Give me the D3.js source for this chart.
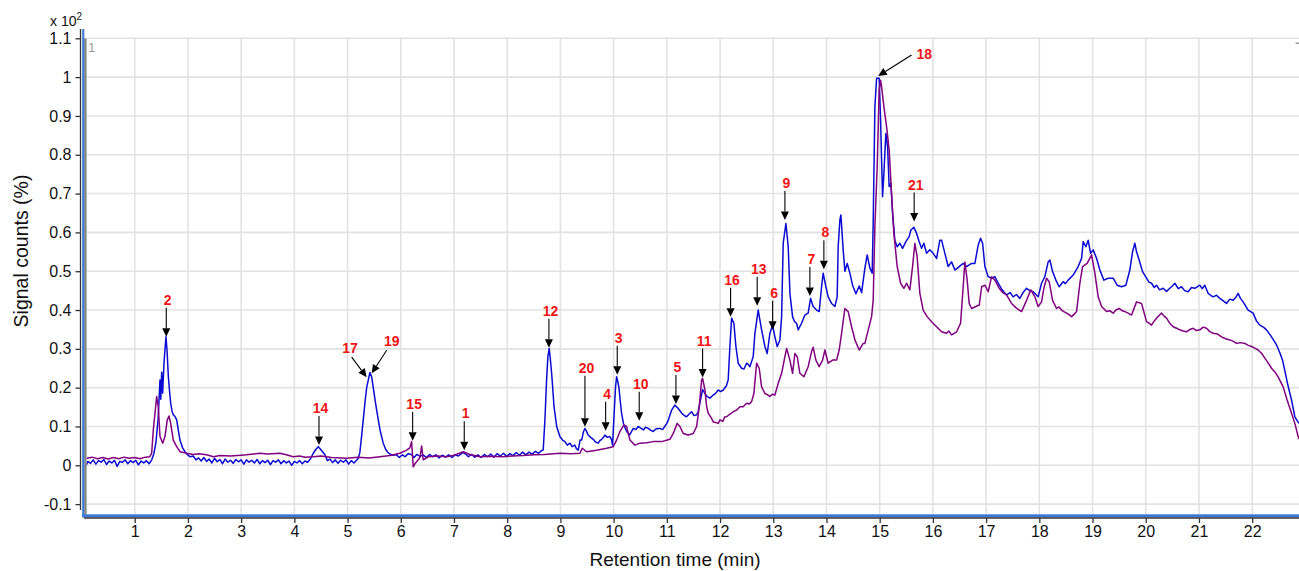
<!DOCTYPE html>
<html>
<head>
<meta charset="utf-8">
<script src="https://cdn.jsdelivr.net/npm/d3@7"></script>
<style>
  body { margin: 0; background: #fff; }
  svg { display: block; }
  text { font-family: "Liberation Sans", Arial, Helvetica, sans-serif; }
</style>
</head>
<body>
<svg id="chart" width="1299" height="571"></svg>
<script>
// Retention-time ticks (min) and signal ticks (x 10^2 %)
const xTicks = d3.range(1, 23);
const yTicks = [-0.1, 0, 0.1, 0.2, 0.3, 0.4, 0.5, 0.6, 0.7, 0.8, 0.9, 1, 1.1];
const yTickLabels = ["-0.1", "0", "0.1", "0.2", "0.3", "0.4", "0.5", "0.6", "0.7", "0.8", "0.9", "1", "1.1"];

// Chromatogram 1 (blue): [time, signal]
const blueTrace = [
[0.03,0.012],[0.08,-0.002],[0.12,0.010],[0.17,0.005],[0.22,0.014],[0.27,0.003],[0.32,0.012],[0.37,0.008],[0.42,0.015],[0.47,0.002],
[0.52,0.011],[0.57,0.006],[0.62,0.013],[0.67,-0.003],[0.72,0.010],[0.77,0.008],[0.82,0.014],[0.87,0.004],[0.92,0.012],[0.97,0.007],
[1.02,0.013],[1.07,0.001],[1.12,0.011],[1.17,0.006],[1.22,0.012],[1.27,0.004],[1.32,0.014],[1.36,0.030],[1.40,0.060],[1.44,0.120],
[1.475,0.220],[1.49,0.170],[1.507,0.240],[1.525,0.186],[1.55,0.263],[1.57,0.300],[1.588,0.331],[1.61,0.290],[1.632,0.228],[1.655,0.190],
[1.676,0.160],[1.70,0.140],[1.725,0.130],[1.76,0.125],[1.789,0.117],[1.82,0.090],[1.85,0.065],[1.90,0.045],[1.945,0.035],[2.0,0.026],
[2.04,0.022],[2.1,0.024],[2.15,0.014],[2.2,0.019],[2.25,0.011],[2.3,0.020],[2.35,0.010],[2.4,0.016],[2.45,0.006],[2.5,0.018],
[2.55,0.009],[2.6,0.015],[2.65,0.004],[2.7,0.016],[2.75,0.008],[2.8,0.013],[2.85,0.005],[2.9,0.015],[2.95,0.009],[3.0,0.014],
[3.05,0.003],[3.1,0.014],[3.15,0.008],[3.2,0.013],[3.25,0.006],[3.3,0.015],[3.35,0.004],[3.4,0.012],[3.45,0.007],[3.5,0.013],
[3.55,0.002],[3.6,0.012],[3.65,0.008],[3.7,0.014],[3.75,0.004],[3.8,0.012],[3.85,0.006],[3.9,0.011],[3.95,0.000],[4.0,0.010],
[4.05,0.006],[4.1,0.012],[4.15,0.004],[4.2,0.011],[4.25,0.008],[4.3,0.016],[4.356,0.031],[4.40,0.040],[4.45,0.048],[4.50,0.040],
[4.575,0.027],[4.62,0.012],[4.67,0.016],[4.72,0.007],[4.77,0.014],[4.82,0.005],[4.87,0.013],[4.92,0.008],[4.97,0.014],[5.02,0.003],
[5.07,0.012],[5.12,0.006],[5.17,0.013],[5.2,0.018],[5.23,0.032],[5.26,0.070],[5.295,0.117],[5.33,0.165],[5.359,0.200],[5.39,0.220],
[5.42,0.239],[5.453,0.228],[5.483,0.200],[5.515,0.170],[5.547,0.142],[5.58,0.115],[5.61,0.091],[5.67,0.057],[5.72,0.040],[5.765,0.032],
[5.83,0.026],[5.92,0.027],[5.97,0.020],[6.03,0.027],[6.08,0.022],[6.14,0.030],[6.2,0.028],[6.25,0.020],[6.3,0.028],[6.36,0.023],
[6.42,0.027],[6.48,0.020],[6.54,0.028],[6.6,0.022],[6.66,0.027],[6.72,0.019],[6.78,0.026],[6.84,0.021],[6.9,0.027],[6.96,0.020],
[7.02,0.027],[7.08,0.024],[7.13,0.029],[7.17,0.033],[7.22,0.029],[7.27,0.022],[7.33,0.028],[7.39,0.021],[7.45,0.027],[7.51,0.020],
[7.57,0.028],[7.63,0.022],[7.69,0.029],[7.75,0.021],[7.81,0.030],[7.87,0.024],[7.93,0.031],[7.99,0.023],[8.05,0.030],[8.11,0.025],
[8.17,0.033],[8.23,0.026],[8.29,0.034],[8.35,0.027],[8.41,0.034],[8.47,0.029],[8.53,0.036],[8.59,0.031],[8.64,0.037],[8.677,0.040],
[8.71,0.120],[8.74,0.220],[8.765,0.280],[8.79,0.301],[8.81,0.275],[8.835,0.237],[8.86,0.190],[8.88,0.151],[8.93,0.100],[8.99,0.074],
[9.04,0.065],[9.085,0.061],[9.13,0.052],[9.18,0.057],[9.22,0.048],[9.27,0.052],[9.30,0.043],[9.335,0.039],[9.37,0.065],[9.40,0.065],
[9.43,0.085],[9.46,0.095],[9.49,0.088],[9.52,0.078],[9.57,0.072],[9.617,0.067],[9.66,0.060],[9.71,0.057],[9.745,0.064],[9.775,0.067],
[9.81,0.072],[9.837,0.078],[9.88,0.072],[9.93,0.074],[9.96,0.066],[9.98,0.052],[10.01,0.134],[10.035,0.200],[10.056,0.228],[10.08,0.215],
[10.10,0.200],[10.125,0.165],[10.15,0.134],[10.19,0.104],[10.245,0.087],[10.30,0.078],[10.34,0.088],[10.37,0.095],[10.42,0.092],[10.46,0.100],
[10.51,0.096],[10.56,0.091],[10.60,0.098],[10.65,0.095],[10.70,0.090],[10.745,0.087],[10.80,0.094],[10.87,0.095],[10.92,0.092],[10.96,0.100],
[11.0,0.108],[11.03,0.117],[11.06,0.130],[11.09,0.142],[11.15,0.155],[11.21,0.147],[11.25,0.140],[11.28,0.134],[11.33,0.128],[11.37,0.125],
[11.42,0.132],[11.465,0.138],[11.51,0.128],[11.56,0.130],[11.59,0.138],[11.62,0.160],[11.672,0.195],[11.716,0.185],[11.75,0.178],[11.81,0.173],
[11.872,0.181],[11.92,0.186],[11.965,0.194],[12.01,0.190],[12.06,0.194],[12.12,0.205],[12.153,0.220],[12.185,0.306],[12.217,0.379],[12.26,0.366],
[12.298,0.306],[12.341,0.263],[12.405,0.250],[12.45,0.248],[12.499,0.263],[12.53,0.260],[12.561,0.254],[12.623,0.280],[12.655,0.340],[12.717,0.400],
[12.781,0.349],[12.843,0.306],[12.886,0.288],[12.937,0.340],[12.987,0.361],[13.031,0.331],[13.074,0.306],[13.125,0.323],[13.157,0.383],[13.187,0.572],
[13.238,0.623],[13.281,0.563],[13.313,0.443],[13.363,0.383],[13.40,0.370],[13.438,0.366],[13.469,0.349],[13.532,0.366],[13.594,0.387],[13.656,0.392],
[13.701,0.430],[13.75,0.409],[13.814,0.400],[13.863,0.396],[13.908,0.460],[13.938,0.495],[13.989,0.460],[14.032,0.434],[14.096,0.417],[14.158,0.409],
[14.201,0.434],[14.22,0.563],[14.252,0.632],[14.271,0.645],[14.314,0.555],[14.346,0.500],[14.39,0.520],[14.44,0.495],[14.49,0.464],[14.553,0.442],
[14.615,0.462],[14.66,0.445],[14.722,0.508],[14.765,0.542],[14.816,0.508],[14.859,0.495],[14.878,0.625],[14.91,0.924],[14.942,0.997],[14.99,0.997],
[15.017,0.889],[15.054,0.692],[15.079,0.752],[15.116,0.855],[15.148,0.821],[15.178,0.718],[15.21,0.726],[15.242,0.649],[15.285,0.580],[15.329,0.563],
[15.379,0.572],[15.43,0.559],[15.492,0.576],[15.554,0.589],[15.586,0.606],[15.643,0.613],[15.693,0.598],[15.742,0.576],[15.787,0.559],[15.83,0.572],
[15.881,0.546],[15.943,0.555],[16.005,0.546],[16.069,0.533],[16.131,0.580],[16.163,0.580],[16.225,0.546],[16.287,0.512],[16.351,0.524],[16.413,0.503],
[16.494,0.512],[16.569,0.520],[16.633,0.512],[16.727,0.520],[16.789,0.520],[16.851,0.567],[16.896,0.585],[16.934,0.572],[16.977,0.512],[17.039,0.486],
[17.103,0.482],[17.165,0.486],[17.227,0.469],[17.30,0.452],[17.384,0.439],[17.45,0.445],[17.508,0.434],[17.57,0.440],[17.634,0.430],[17.70,0.446],
[17.76,0.456],[17.82,0.450],[17.884,0.447],[17.978,0.434],[18.042,0.469],[18.104,0.486],[18.166,0.524],[18.198,0.529],[18.249,0.499],[18.311,0.477],
[18.373,0.460],[18.448,0.473],[18.49,0.468],[18.542,0.477],[18.636,0.490],[18.73,0.512],[18.794,0.533],[18.824,0.576],[18.875,0.563],[18.918,0.580],
[18.963,0.546],[19.012,0.555],[19.076,0.533],[19.138,0.503],[19.213,0.477],[19.294,0.482],[19.387,0.482],[19.463,0.464],[19.545,0.460],[19.626,0.464],
[19.701,0.503],[19.752,0.550],[19.795,0.572],[19.827,0.550],[19.876,0.529],[19.94,0.499],[20.015,0.482],[20.06,0.472],[20.109,0.469],[20.16,0.458],
[20.203,0.464],[20.26,0.452],[20.327,0.456],[20.39,0.448],[20.453,0.456],[20.50,0.462],[20.547,0.469],[20.61,0.455],[20.673,0.460],[20.73,0.450],
[20.797,0.447],[20.86,0.458],[20.923,0.456],[21.016,0.464],[21.06,0.455],[21.11,0.464],[21.172,0.443],[21.22,0.438],[21.266,0.434],[21.33,0.438],
[21.392,0.430],[21.45,0.424],[21.518,0.417],[21.58,0.428],[21.642,0.425],[21.69,0.432],[21.736,0.443],[21.78,0.430],[21.83,0.421],[21.924,0.400],
[22.018,0.392],[22.08,0.372],[22.144,0.361],[22.21,0.356],[22.27,0.349],[22.364,0.331],[22.458,0.310],[22.52,0.290],[22.57,0.271],[22.62,0.240],
[22.657,0.215],[22.70,0.190],[22.74,0.168],[22.802,0.125],[22.877,0.108]
];

// Chromatogram 2 (purple): [time, signal]
const purpleTrace = [
[0.03,0.020],[0.1,0.018],[0.2,0.021],[0.3,0.017],[0.4,0.020],[0.5,0.016],[0.6,0.020],[0.7,0.017],[0.8,0.021],[0.9,0.018],
[1.0,0.020],[1.1,0.017],[1.2,0.021],[1.28,0.022],[1.319,0.031],[1.349,0.091],[1.381,0.134],[1.413,0.177],[1.443,0.151],[1.475,0.074],
[1.526,0.057],[1.569,0.074],[1.612,0.117],[1.644,0.127],[1.676,0.108],[1.725,0.065],[1.789,0.048],[1.851,0.035],[1.977,0.031],[2.1,0.028],
[2.2,0.030],[2.35,0.027],[2.48,0.022],[2.6,0.025],[2.8,0.024],[3.0,0.026],[3.1,0.027],[3.35,0.031],[3.5,0.029],[3.73,0.031],
[3.85,0.027],[3.98,0.022],[4.1,0.024],[4.2,0.021],[4.356,0.022],[4.5,0.024],[4.7,0.020],[4.983,0.018],[5.2,0.021],[5.4,0.019],
[5.609,0.022],[5.8,0.025],[5.984,0.031],[6.11,0.039],[6.17,0.045],[6.204,0.061],[6.234,-0.004],[6.27,0.005],[6.298,0.009],[6.36,0.020],
[6.392,0.050],[6.422,0.014],[6.516,0.022],[6.7,0.024],[6.862,0.022],[7.0,0.026],[7.174,0.035],[7.3,0.028],[7.488,0.022],[7.7,0.023],
[7.9,0.022],[8.1,0.024],[8.3,0.025],[8.5,0.027],[8.7,0.028],[8.99,0.031],[9.2,0.030],[9.367,0.031],[9.41,0.044],[9.493,0.035],
[9.68,0.039],[9.868,0.044],[9.993,0.048],[10.056,0.065],[10.118,0.087],[10.193,0.104],[10.244,0.100],[10.306,0.065],[10.4,0.052],[10.494,0.057],
[10.62,0.058],[10.744,0.061],[10.902,0.061],[11.058,0.067],[11.12,0.082],[11.195,0.108],[11.246,0.100],[11.308,0.082],[11.402,0.078],[11.496,0.082],
[11.56,0.100],[11.609,0.151],[11.654,0.220],[11.672,0.224],[11.716,0.194],[11.748,0.151],[11.778,0.134],[11.841,0.121],[11.872,0.112],[11.965,0.108],
[12.0,0.117],[12.05,0.113],[12.09,0.125],[12.123,0.125],[12.18,0.131],[12.247,0.138],[12.31,0.142],[12.373,0.151],[12.435,0.151],[12.499,0.160],
[12.55,0.158],[12.593,0.164],[12.636,0.185],[12.687,0.263],[12.736,0.250],[12.781,0.202],[12.843,0.185],[12.89,0.182],[12.937,0.177],[12.98,0.183],
[13.031,0.181],[13.093,0.211],[13.157,0.237],[13.219,0.280],[13.251,0.301],[13.313,0.271],[13.363,0.237],[13.406,0.288],[13.45,0.280],[13.5,0.237],
[13.576,0.228],[13.656,0.254],[13.72,0.293],[13.75,0.304],[13.801,0.271],[13.863,0.254],[13.927,0.271],[13.97,0.297],[14.032,0.263],[14.115,0.271],
[14.19,0.271],[14.239,0.297],[14.284,0.340],[14.346,0.404],[14.408,0.396],[14.472,0.357],[14.534,0.323],[14.615,0.297],[14.69,0.314],[14.722,0.314],
[14.785,0.349],[14.848,0.383],[14.878,0.425],[14.91,0.615],[14.953,0.769],[14.99,0.967],[15.017,0.992],[15.036,0.975],[15.079,0.924],[15.13,0.872],
[15.178,0.812],[15.223,0.701],[15.266,0.598],[15.329,0.512],[15.393,0.469],[15.455,0.456],[15.505,0.469],[15.567,0.452],[15.618,0.512],[15.661,0.572],
[15.704,0.537],[15.755,0.443],[15.817,0.400],[15.892,0.383],[15.975,0.370],[16.069,0.357],[16.163,0.344],[16.257,0.340],[16.30,0.346],[16.351,0.336],
[16.40,0.340],[16.445,0.344],[16.52,0.366],[16.569,0.460],[16.601,0.524],[16.644,0.477],[16.682,0.417],[16.727,0.404],[16.808,0.409],[16.871,0.413],
[16.916,0.460],[16.977,0.464],[17.039,0.447],[17.103,0.486],[17.165,0.477],[17.246,0.456],[17.31,0.445],[17.384,0.439],[17.478,0.417],[17.57,0.405],
[17.666,0.396],[17.76,0.425],[17.841,0.452],[17.916,0.434],[17.978,0.409],[18.042,0.421],[18.085,0.456],[18.136,0.482],[18.185,0.473],[18.249,0.425],
[18.324,0.404],[18.37,0.408],[18.418,0.400],[18.46,0.396],[18.512,0.392],[18.56,0.388],[18.606,0.383],[18.66,0.390],[18.7,0.396],[18.762,0.469],
[18.813,0.512],[18.899,0.520],[18.982,0.542],[19.044,0.495],[19.106,0.434],[19.17,0.409],[19.264,0.396],[19.33,0.398],[19.387,0.392],[19.44,0.400],
[19.5,0.404],[19.56,0.398],[19.607,0.396],[19.67,0.392],[19.733,0.387],[19.827,0.421],[19.921,0.417],[20.015,0.370],[20.06,0.366],[20.109,0.361],
[20.16,0.372],[20.203,0.379],[20.25,0.386],[20.297,0.392],[20.34,0.385],[20.391,0.379],[20.45,0.366],[20.515,0.357],[20.58,0.353],[20.641,0.349],
[20.70,0.346],[20.767,0.344],[20.83,0.350],[20.891,0.353],[20.95,0.347],[21.016,0.349],[21.08,0.356],[21.142,0.353],[21.2,0.345],[21.266,0.340],
[21.35,0.338],[21.424,0.331],[21.5,0.326],[21.58,0.323],[21.64,0.320],[21.706,0.314],[21.78,0.316],[21.862,0.314],[21.93,0.309],[21.988,0.306],
[22.05,0.302],[22.112,0.297],[22.18,0.288],[22.238,0.276],[22.3,0.264],[22.364,0.250],[22.43,0.240],[22.488,0.228],[22.582,0.202],[22.657,0.168],
[22.74,0.134],[22.802,0.108],[22.864,0.074],[22.88,0.068]
];

// Numbered peak annotations: label, arrow-tip time and signal
const peakLabels = ["2","14","17","19","15","1","12","20","4","3","10","5","11","16","13","6","9","7","8","21","18"];
const peakTimes  = [1.593,4.463,5.359,5.453,6.223,7.193,8.784,9.461,9.85,10.068,10.481,11.171,11.672,12.198,12.698,12.988,13.219,13.688,13.951,15.648,14.972];
const peakValues = [0.331,0.052,0.227,0.237,0.063,0.039,0.303,0.099,0.089,0.233,0.115,0.158,0.226,0.383,0.411,0.349,0.632,0.436,0.505,0.628,1.003];

// Arrow geometry (pixels): tail offset from tip, label offset from tail
const arrowDefault = { dx: 0, dy: -29, lx: 1.5, ly: -8 };
const arrowSpecial = {
  "17": { dx: -15, dy: -20, lx: -1.7, ly: -9 },
  "19": { dx: 15, dy: -23, lx: 5, ly: -9 },
  "20": { dx: 0, dy: -51, lx: 1.5, ly: -8 },
  "18": { dx: 33.4, dy: -21, lx: 12.6, ly: -1 }
};

const svg = d3.select("#chart");
const W = 1299;

const x = d3.scaleLinear().domain([0, 22.88]).range([81.5, 1299]);
const y = d3.scaleLinear().domain([0, 1.1]).range([465.3, 38.3]);

const plotLeft = 86.5, plotRight = W, plotTop = y(1.1), plotBottom = 514.5;

// grid
const grid = svg.append("g").attr("stroke", "#e2e2e2").attr("stroke-width", 1.6);
grid.selectAll("line.v").data(xTicks).join("line")
  .attr("x1", d => x(d)).attr("x2", d => x(d))
  .attr("y1", plotTop).attr("y2", plotBottom);
grid.selectAll("line.h").data(yTicks).join("line")
  .attr("x1", plotLeft).attr("x2", plotRight)
  .attr("y1", d => y(d)).attr("y2", d => y(d));

// traces
svg.append("clipPath").attr("id", "plotClip").append("rect")
  .attr("x", plotLeft).attr("y", 29).attr("width", plotRight - plotLeft).attr("height", plotBottom - 29);

const line = d3.line().x(d => x(d[0])).y(d => y(d[1]));
const traces = svg.append("g").attr("clip-path", "url(#plotClip)");
traces.append("path").datum(blueTrace)
  .attr("d", line).attr("fill", "none").attr("stroke", "#0a0ad2")
  .attr("stroke-width", 1.5).attr("stroke-linejoin", "round");
traces.append("path").datum(purpleTrace)
  .attr("d", line).attr("fill", "none").attr("stroke", "#800080")
  .attr("stroke-width", 1.5).attr("stroke-linejoin", "round");

// selection frame on the left and bottom edges
svg.append("rect").attr("x", 84.2).attr("y", plotTop).attr("width", 2.4).attr("height", plotBottom - plotTop).attr("fill", "#858585");
svg.append("rect").attr("x", 82.2).attr("y", 29).attr("width", 2.1).attr("height", 517.3 - 29).attr("fill", "#3b78d6");
svg.append("rect").attr("x", 82.2).attr("y", 514.3).attr("width", W - 82.2).attr("height", 3).attr("fill", "#3b78d6");

// y axis
const yAxis = d3.axisLeft(y).tickValues(yTicks).tickSize(5).tickPadding(4)
  .tickFormat((d, i) => yTickLabels[i]);
const gy = svg.append("g").attr("transform", "translate(80.5,0)").call(yAxis);
gy.select(".domain").remove();
gy.selectAll(".tick line").attr("stroke", "#333").attr("stroke-width", 1.3);
gy.selectAll(".tick text").attr("font-size", 16).attr("fill", "#111")
  .style("font-family", "'Liberation Sans', Arial, sans-serif");
svg.append("line").attr("x1", 80.5).attr("x2", 80.5).attr("y1", 29).attr("y2", 510)
  .attr("stroke", "#333").attr("stroke-width", 1.3);

// x axis
const xAxis = d3.axisBottom(x).tickValues(xTicks).tickSize(5).tickPadding(3).tickFormat(d3.format("d"));
const gx = svg.append("g").attr("transform", "translate(0,518)").call(xAxis);
gx.select(".domain").remove();
gx.selectAll(".tick line").attr("stroke", "#333").attr("stroke-width", 1.3);
gx.selectAll(".tick text").attr("font-size", 16).attr("fill", "#111")
  .style("font-family", "'Liberation Sans', Arial, sans-serif");
svg.append("line").attr("x1", 84).attr("x2", W).attr("y1", 518).attr("y2", 518)
  .attr("stroke", "#333").attr("stroke-width", 1.3);

// axis titles
svg.append("text").attr("x", 675).attr("y", 566).attr("text-anchor", "middle")
  .attr("font-size", 19).attr("fill", "#111")
  .text("Retention time (min)");
svg.append("text").attr("transform", "translate(21,251) rotate(-90)").attr("text-anchor", "middle")
  .attr("dominant-baseline", "central").attr("font-size", 19.5).attr("fill", "#111")
  .text("Signal counts (%)");

// scale multiplier
const mult = svg.append("text").attr("x", 50).attr("y", 26).attr("font-size", 14).attr("fill", "#111");
mult.append("tspan").text("x 10");
mult.append("tspan").attr("font-size", 10).attr("dy", -6).text("2");

// trace index markers
svg.append("text").attr("x", 91.5).attr("y", 47).attr("text-anchor", "middle")
  .attr("dominant-baseline", "central").attr("font-size", 13).attr("fill", "#9a9a9a").text("1");
svg.append("rect").attr("x", 1295.5).attr("y", 42.5).attr("width", 3.5).attr("height", 1.5).attr("fill", "#9a9a9a");

// peak arrows and labels
const ann = svg.append("g");
peakLabels.forEach((lab, i) => {
  const g = arrowSpecial[lab] || arrowDefault;
  const tx = x(peakTimes[i]), ty = y(peakValues[i]);
  const sx = tx + g.dx, sy = ty + g.dy;
  const len = Math.hypot(g.dx, g.dy);
  const ux = -g.dx / len, uy = -g.dy / len;   // unit vector tail -> tip
  const headL = 8.5, headW = 4;
  const bx = tx - ux * headL, by = ty - uy * headL;
  ann.append("line").attr("x1", sx).attr("y1", sy).attr("x2", bx).attr("y2", by)
    .attr("stroke", "#000").attr("stroke-width", 1.1);
  ann.append("path")
    .attr("d", `M${tx},${ty}L${bx - uy * headW},${by + ux * headW}L${bx + uy * headW},${by - ux * headW}Z`)
    .attr("fill", "#000");
  ann.append("text").attr("x", sx + g.lx).attr("y", sy + g.ly)
    .attr("text-anchor", "middle").attr("dominant-baseline", "central")
    .attr("font-size", 14).attr("font-weight", "bold").attr("fill", "#f01414")
    .text(lab);
});
</script>
</body>
</html>
